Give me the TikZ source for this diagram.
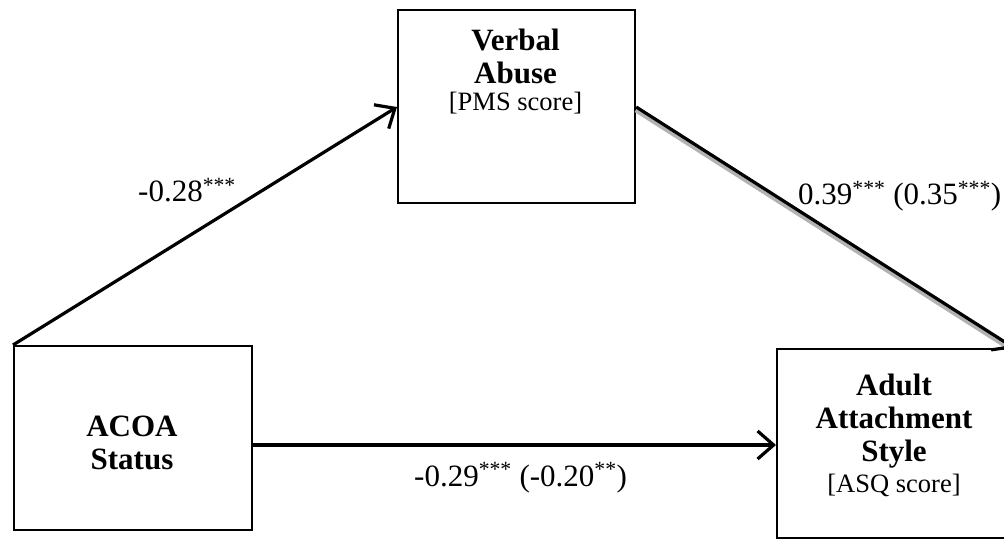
\documentclass[tikz,border=0pt]{standalone}
\usepackage{fontspec}
\setmainfont{Liberation Serif}
\usetikzlibrary{arrows.meta}
\newcommand{\sig}[1]{\textsuperscript{#1}}
\begin{document}
\begin{tikzpicture}[x=1pt,y=-1pt,
  box/.style={draw, line width=2.2pt, rectangle, inner sep=0pt, anchor=north west},
  title/.style={font=\fontsize{31}{35}\selectfont\bfseries, anchor=base, inner sep=0pt},
  score/.style={font=\fontsize{26.5}{30}\selectfont, anchor=base, inner sep=0pt},
  coef/.style={font=\fontsize{31}{35}\selectfont, anchor=base west, inner sep=0pt},
  path/.style={line width=3.2pt, -{Straight Barb[length=16pt, width=28pt, line width=3.2pt]}},
]
\useasboundingbox (0,0) rectangle (1004,540);
\clip (0,0) rectangle (1004,540);

% variable boxes
\node[box, minimum width=238pt, minimum height=184pt] (acoa) at (13,345) {};
\node[box, minimum width=237pt, minimum height=193pt] (verbal) at (397,9) {};
\node[box, minimum width=236pt, minimum height=189pt] (adult) at (776,348) {};

% box texts
\node[title] (acoa1) at (132,436) {ACOA};
\node[title] (acoa2) at (132,469) {Status};

\node[title] (verbal1) at (515.5,51) {Verbal};
\node[title] (verbal2) at (515.5,84) {Abuse};
\node[score] (verbal3) at (515.5,111) {[PMS score]};

\node[title] (adult1) at (894,395) {Adult};
\node[title] (adult2) at (894,428) {Attachment};
\node[title] (adult3) at (894,461) {Style};
\node[score] (adult4) at (894,492) {[ASQ score]};

% paths
\draw[path] (acoa.north west) -- (verbal.west |- 0,107);
\draw[line width=6pt, gray!60] ([yshift=-2.5pt]verbal.east |- 0,107) -- ([yshift=-2.5pt]adult.north east);
\draw[path] (verbal.east |- 0,107) -- (adult.north east);
\draw[path] (acoa.east |- 0,445) -- (adult.west |- 0,445);

% coefficients
\node[coef] (a) at (138,202) {-0.28\sig{***}};
\node[coef] (b) at (798,205) {0.39\sig{***} (0.35\sig{***})};
\node[coef] (c) at (414,486) {-0.29\sig{***} (-0.20\sig{**})};
\end{tikzpicture}
\end{document}
